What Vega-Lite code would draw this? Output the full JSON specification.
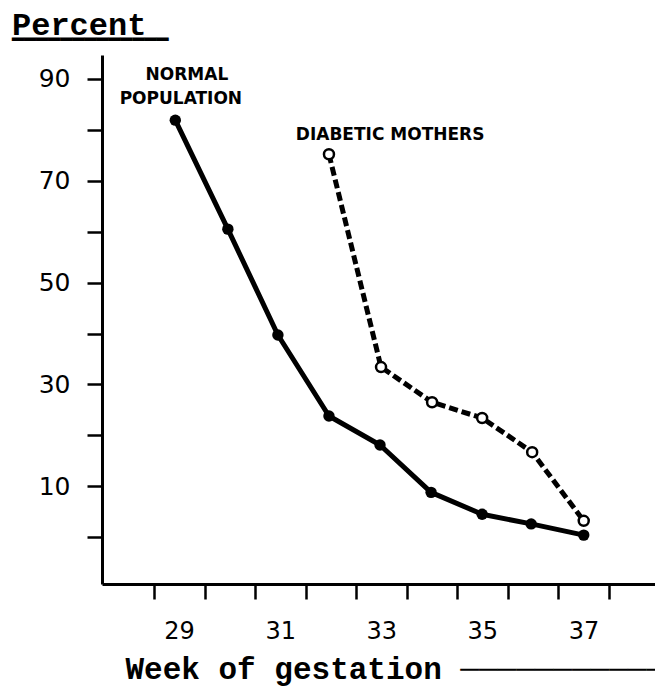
{
  "$schema": "https://vega.github.io/schema/vega-lite/v6.json",
  "width": 553,
  "height": 529,
  "autosize": {"type": "none"},
  "padding": {"left": 102, "top": 55, "right": 0, "bottom": 106},
  "background": "white",
  "title": {
    "text": "Percent",
    "subtitle": "━━━━━━━━━━━━━",
    "anchor": "start",
    "frame": "group",
    "dx": -90,
    "font": "Liberation Mono",
    "fontSize": 32,
    "fontWeight": "bold",
    "color": "black",
    "subtitleFont": "DejaVu Sans Mono",
    "subtitleFontSize": 20,
    "subtitleColor": "black",
    "subtitlePadding": -12,
    "offset": 4
  },
  "config": {
    "view": {"stroke": null},
    "axis": {"grid": false}
  },
  "data": {
    "values": [
      {"series": "normal", "week": 28.92, "pct": 81.9},
      {"series": "normal", "week": 29.96, "pct": 60.5},
      {"series": "normal", "week": 30.95, "pct": 39.7},
      {"series": "normal", "week": 31.96, "pct": 23.8},
      {"series": "normal", "week": 32.97, "pct": 18.1},
      {"series": "normal", "week": 33.98, "pct": 8.8},
      {"series": "normal", "week": 34.99, "pct": 4.5},
      {"series": "normal", "week": 35.96, "pct": 2.6},
      {"series": "normal", "week": 37.0, "pct": 0.4},
      {"series": "diabetic", "week": 31.96, "pct": 75.2},
      {"series": "diabetic", "week": 32.99, "pct": 33.4},
      {"series": "diabetic", "week": 34.0, "pct": 26.5},
      {"series": "diabetic", "week": 34.99, "pct": 23.4},
      {"series": "diabetic", "week": 35.98, "pct": 16.7},
      {"series": "diabetic", "week": 37.0, "pct": 3.2}
    ]
  },
  "encoding": {
    "x": {
      "field": "week",
      "type": "quantitative",
      "scale": {"domain": [27.47, 38.41], "nice": false, "zero": false},
      "axis": {
        "values": [28.5, 29.5, 30.5, 31.5, 32.5, 33.5, 34.5, 35.5, 36.5, 37.5],
        "labelExpr": "(datum.value + 0.5) % 2 == 1 ? format(datum.value + 0.5, 'd') : ''",
        "labelOffset": 25,
        "labelOverlap": false,
        "labelFont": "DejaVu Sans",
        "labelFontSize": 24,
        "labelColor": "black",
        "labelPadding": 20,
        "tickSize": 15,
        "tickWidth": 2.5,
        "tickColor": "black",
        "domainColor": "black",
        "domainWidth": 3,
        "title": "Week of gestation ───────────",
        "titleFont": "Liberation Mono",
        "titleFontSize": 31,
        "titleFontWeight": "bold",
        "titleColor": "black",
        "titleAlign": "left",
        "titleBaseline": "alphabetic",
        "titleX": 23,
        "titleY": 94
      }
    },
    "y": {
      "field": "pct",
      "type": "quantitative",
      "scale": {"domain": [-9.2, 94.7], "nice": false, "zero": false},
      "axis": {
        "values": [0, 10, 20, 30, 40, 50, 60, 70, 80, 90],
        "labelExpr": "datum.value % 20 == 10 ? datum.label : ''",
        "labelOverlap": false,
        "labelFont": "DejaVu Sans",
        "labelFontSize": 25,
        "labelColor": "black",
        "labelPadding": 17,
        "tickSize": 15,
        "tickWidth": 2.5,
        "tickColor": "black",
        "domainColor": "black",
        "domainWidth": 3,
        "title": null
      }
    }
  },
  "layer": [
    {
      "transform": [{"filter": "datum.series == 'normal'"}],
      "mark": {"type": "line", "color": "black", "strokeWidth": 5, "strokeCap": "round", "strokeJoin": "round"}
    },
    {
      "transform": [{"filter": "datum.series == 'normal'"}],
      "mark": {"type": "point", "filled": true, "color": "black", "size": 130, "opacity": 1}
    },
    {
      "transform": [{"filter": "datum.series == 'diabetic'"}],
      "mark": {"type": "line", "color": "black", "strokeWidth": 5, "strokeDash": [9, 4]}
    },
    {
      "transform": [{"filter": "datum.series == 'diabetic'"}],
      "mark": {"type": "point", "filled": true, "fill": "white", "stroke": "black", "strokeWidth": 2.5, "size": 100, "opacity": 1}
    },
    {
      "data": {
        "values": [
          {"label": "NORMAL", "week": 29.15, "pct": 90.8},
          {"label": "POPULATION", "week": 29.03, "pct": 86.05},
          {"label": "DIABETIC MOTHERS", "week": 33.17, "pct": 78.9}
        ]
      },
      "mark": {"type": "text", "font": "DejaVu Sans", "fontSize": 17, "fontWeight": "bold", "color": "black", "align": "center", "baseline": "middle"},
      "encoding": {
        "text": {"field": "label", "type": "nominal"}
      }
    }
  ]
}
